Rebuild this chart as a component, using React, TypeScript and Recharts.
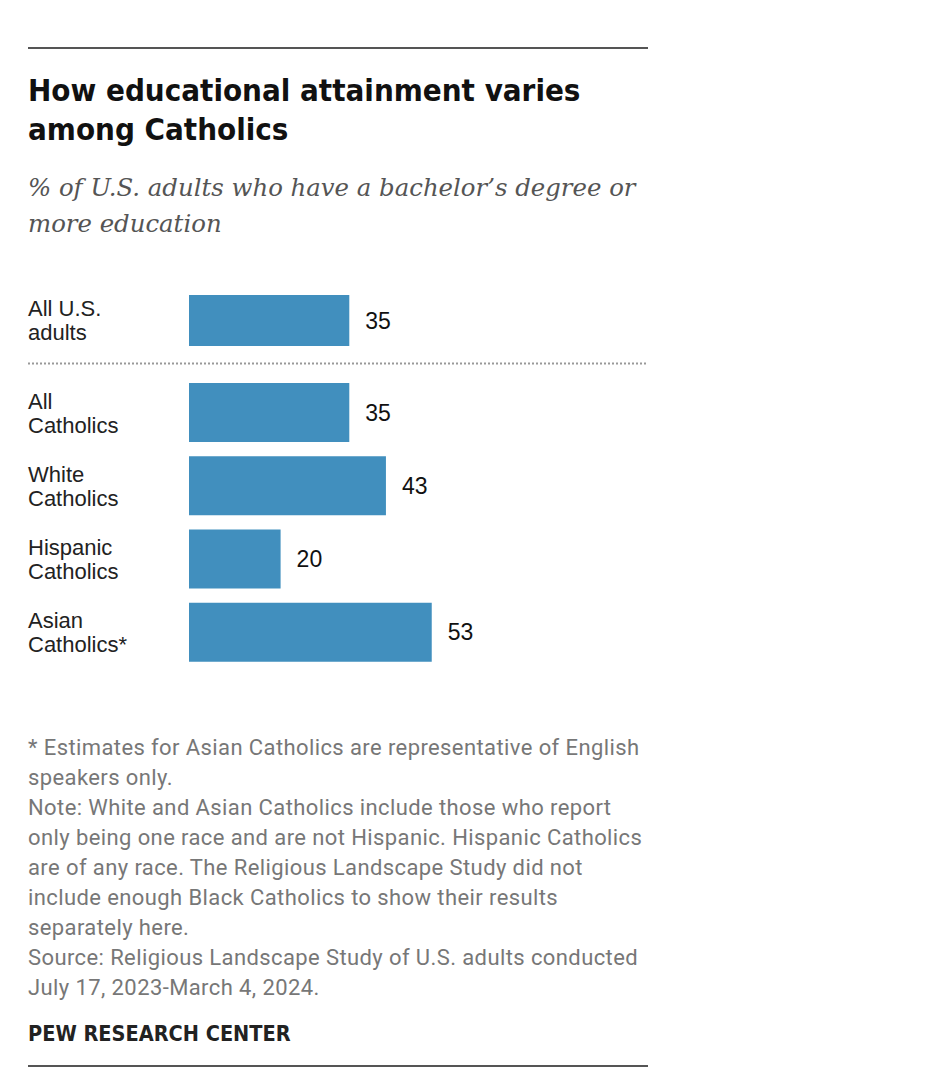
import React from "react"
import { BarChart, Bar, XAxis, YAxis, LabelList } from "recharts"

// reference row (all adults) shown above the dotted rule
const topCategories = ["All U.S.\nadults"]
const topValues = [35]

// Catholic subgroups
const groupCategories = ["All\nCatholics", "White\nCatholics", "Hispanic\nCatholics", "Asian\nCatholics*"]
const groupValues = [35, 43, 20, 53]

const footnotes = [
  "* Estimates for Asian Catholics are representative of English",
  "speakers only.",
  "Note: White and Asian Catholics include those who report",
  "only being one race and are not Hispanic. Hispanic Catholics",
  "are of any race. The Religious Landscape Study did not",
  "include enough Black Catholics to show their results",
  "separately here.",
  "Source: Religious Landscape Study of U.S. adults conducted",
  "July 17, 2023-March 4, 2024.",
]

const BAR_COLOR = "#418fbe"
const SANS = "'Liberation Sans', Arial, sans-serif"
const NARROW = "'Liberation Sans Narrow', 'DejaVu Sans Condensed', 'Roboto', sans-serif"

const toRows = (cats: string[], vals: number[]) => cats.map((name, i) => ({ name, value: vals[i] }))

function CategoryTick(props: any) {
  const { y, payload } = props
  const lines = String(payload.value).split("\n")
  const lh = 24
  const start = y - ((lines.length - 1) * lh) / 2
  return (
    <text x={28} y={start} textAnchor="start" fontFamily={SANS} fontSize={22} fill="#222">
      {lines.map((l, i) => (
        <tspan key={i} x={28} y={start + i * lh} dy="0.36em">
          {l}
        </tspan>
      ))}
    </text>
  )
}

function RowChart({ rows, height, barSize }: { rows: { name: string; value: number }[]; height: number; barSize: number }) {
  return (
    <BarChart
      layout="vertical"
      width={700}
      height={height}
      data={rows}
      margin={{ top: 0, right: 53, bottom: 0, left: 0 }}
    >
      <XAxis type="number" domain={[0, 100]} hide />
      <YAxis
        type="category"
        dataKey="name"
        width={189}
        axisLine={false}
        tickLine={false}
        tick={<CategoryTick />}
        interval={0}
      />
      <Bar dataKey="value" fill={BAR_COLOR} barSize={barSize} isAnimationActive={false}>
        <LabelList dataKey="value" position="right" offset={16} fill="#111" fontSize={23} fontFamily={SANS} />
      </Bar>
    </BarChart>
  )
}

export default function App() {
  return (
    <div style={{ position: "absolute", left: 0, top: 0, width: 952, height: 1082, background: "#fff" }}>
      <div style={{ position: "absolute", left: 28, top: 47, width: 620, height: 2, background: "#555" }} />
      <div
        style={{
          position: "absolute",
          left: 28,
          top: 71,
          width: 640,
          fontFamily: NARROW,
          fontWeight: 700,
          fontSize: 31,
          lineHeight: "38.5px",
          color: "#111",
        }}
      >
        How educational attainment varies
        <br />
        among Catholics
      </div>
      <div
        style={{
          position: "absolute",
          left: 28,
          top: 170,
          width: 700,
          fontFamily: "'DejaVu Serif', serif",
          fontStyle: "italic",
          fontSize: 24.4,
          lineHeight: "36px",
          color: "#555",
        }}
      >
        % of U.S. adults who have a bachelor’s degree or
        <br />
        more education
      </div>

      <div style={{ position: "absolute", left: 0, top: 284 }}>
        <RowChart rows={toRows(topCategories, topValues)} height={73} barSize={51} />
      </div>

      <svg style={{ position: "absolute", left: 28, top: 362 }} width={620} height={3}>
        <line x1={0} y1={1.5} x2={620} y2={1.5} stroke="#999" strokeWidth={2} strokeDasharray="2 2" />
      </svg>

      <div style={{ position: "absolute", left: 0, top: 376 }}>
        <RowChart rows={toRows(groupCategories, groupValues)} height={293} barSize={59} />
      </div>

      <div
        style={{
          position: "absolute",
          left: 28,
          top: 733,
          width: 700,
          fontFamily: "'Roboto', sans-serif",
          fontSize: 22,
          letterSpacing: 0.4,
          lineHeight: "30px",
          color: "#777",
        }}
      >
        {footnotes.map((f, i) => (
          <div key={i}>{f}</div>
        ))}
      </div>

      <div
        style={{
          position: "absolute",
          left: 28,
          top: 1019,
          fontFamily: NARROW,
          fontWeight: 700,
          fontSize: 21.5,
          lineHeight: "30px",
          color: "#222",
        }}
      >
        PEW RESEARCH CENTER
      </div>
      <div style={{ position: "absolute", left: 28, top: 1065, width: 620, height: 2, background: "#555" }} />
    </div>
  )
}
